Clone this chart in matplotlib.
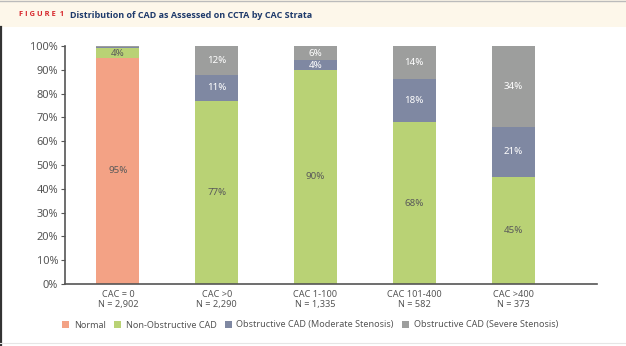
import matplotlib
matplotlib.use("Agg")
import matplotlib.pyplot as plt
from matplotlib.patches import Rectangle
from matplotlib.lines import Line2D
import numpy as np

plt.rcParams['font.family'] = ['Noto Sans', 'DejaVu Sans']

categories = ["CAC = 0\nN = 2,902", "CAC >0\nN = 2,290", "CAC 1-100\nN = 1,335",
              "CAC 101-400\nN = 582", "CAC >400\nN = 373"]
series_names = ["Normal", "Non-Obstructive CAD", "Obstructive CAD (Moderate Stenosis)",
                "Obstructive CAD (Severe Stenosis)"]
normal = [95, 0, 0, 0, 0]
nonobs = [4, 77, 90, 68, 45]
moderate = [0.5, 11, 4, 18, 21]
severe = [0.5, 12, 6, 14, 34]
labels_normal = ["95%", "", "", "", ""]
labels_nonobs = ["4%", "77%", "90%", "68%", "45%"]
labels_moderate = ["", "11%", "4%", "18%", "21%"]
labels_severe = ["", "12%", "6%", "14%", "34%"]
yticks = [0, 10, 20, 30, 40, 50, 60, 70, 80, 90, 100]
ytick_labels = [f"{v}%" for v in yticks]

colors = ["#F3A285", "#B9D275", "#7F88A2", "#9D9E9D"]
text_colors = ["#5a5a5a", "#5a5a5a", "#ffffff", "#ffffff"]

W, H = 626, 346
fig = plt.figure(figsize=(W / 100, H / 100), dpi=100)

# banner
fig.patches.append(Rectangle((0, 1 - 27 / H), 1, 27 / H, transform=fig.transFigure,
                             facecolor="#FDF7EA", edgecolor="none", zorder=0))
fig.add_artist(Line2D([0, 1], [1 - 0.5 / H, 1 - 0.5 / H], transform=fig.transFigure,
                      color="#bbbbbb", lw=1))
fig.add_artist(Line2D([1 / W, 1 / W], [0, 1 - 27 / H], transform=fig.transFigure,
                      color="#333333", lw=1.6))
fig.add_artist(Line2D([0, 1], [3 / H, 3 / H], transform=fig.transFigure,
                      color="#e6e6e6", lw=0.8))
fig.text(19 / W, 1 - 15 / H, "F I G U R E  1", color="#D7262C", fontsize=5.4,
         fontweight="bold", va="center", ha="left", family=["Open Sans", "DejaVu Sans"])
fig.text(70 / W, 1 - 15 / H, "Distribution of CAD as Assessed on CCTA by CAC Strata",
         color="#1E3A6B", fontsize=6.5, fontweight="bold", va="center", ha="left",
         family=["Open Sans", "DejaVu Sans"])

ax = fig.add_axes([65 / W, 1 - 284 / H, (597 - 65) / W, (284 - 46) / H])
x = np.arange(len(categories))
width = 0.435
bottom = np.zeros(len(categories))
all_vals = [normal, nonobs, moderate, severe]
all_labels = [labels_normal, labels_nonobs, labels_moderate, labels_severe]
for vals, labs, c, tc, name in zip(all_vals, all_labels, colors, text_colors, series_names):
    vals = np.array(vals, dtype=float)
    ax.bar(x, vals, width, bottom=bottom, color=c, label=name, zorder=2)
    for xi, v, b, lab in zip(x, vals, bottom, labs):
        if lab:
            ax.text(xi, b + v / 2, lab, ha="center", va="center", color=tc, fontsize=7.0)
    bottom += vals

ax.set_xlim(-0.535, 4.85)
ax.set_ylim(0, 100)
ax.set_yticks(yticks)
ax.set_yticklabels(ytick_labels)
ax.set_xticks(x)
ax.set_xticklabels(categories)
for s in ["top", "right"]:
    ax.spines[s].set_visible(False)
for s in ["left", "bottom"]:
    ax.spines[s].set_color("#555555")
    ax.spines[s].set_linewidth(1.2)
ax.tick_params(axis="y", length=3, color="#555555", labelsize=7.9, labelcolor="#555555", pad=2)
ax.tick_params(axis="x", length=0, labelsize=6.6, labelcolor="#555555", pad=4)
for t in ax.get_xticklabels():
    t.set_linespacing(1.25)

handles, labs = ax.get_legend_handles_labels()
fig.legend(handles, labs, loc="center", bbox_to_anchor=(310 / W, 1 - 325 / H), ncol=4,
           frameon=False, fontsize=6.5, handlelength=0.8, handleheight=0.8,
           handletextpad=0.5, columnspacing=0.9, labelcolor="#555555")

fig.savefig("out.png", dpi=100, facecolor="white")
